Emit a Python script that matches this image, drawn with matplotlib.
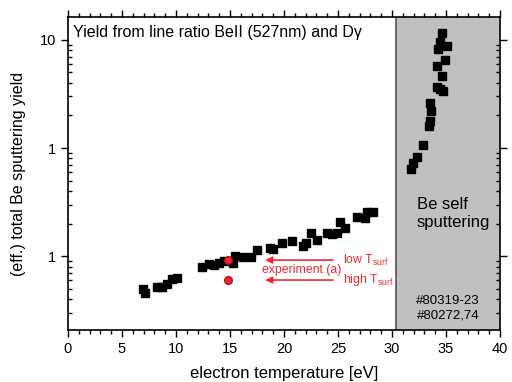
import matplotlib
matplotlib.use("Agg")
import matplotlib.pyplot as plt
from matplotlib.ticker import FixedLocator, FixedFormatter, MultipleLocator

plt.rcParams['font.family'] = ['Liberation Sans', 'DejaVu Sans']

# Be sputtering yield from line ratio (D plasma)
te_d = [6.98, 7.16, 8.21, 8.67, 9.14, 9.60, 10.06, 12.38, 13.09, 13.52, 14.01, 14.44,
        15.31, 15.46, 16.17, 16.91, 17.47, 18.70, 19.01, 19.78, 20.71, 21.79, 22.04,
        22.47, 23.09, 23.95, 24.41, 24.88, 25.19, 25.65, 26.73, 27.50, 27.65, 28.27]
y_d = [0.0491, 0.0457, 0.0513, 0.0520, 0.0550, 0.0608, 0.0625, 0.0786, 0.0843, 0.0820,
       0.0867, 0.0900, 0.0867, 0.1000, 0.0986, 0.0986, 0.1137, 0.1200, 0.1153, 0.1328,
       0.1377, 0.1238, 0.1310, 0.1620, 0.1407, 0.1620, 0.1600, 0.1644, 0.2080, 0.1830,
       0.2310, 0.2234, 0.2570, 0.2536]

# Be self sputtering
te_self = [34.60, 34.44, 35.06, 34.29, 34.94, 34.20, 34.63, 34.14, 34.69, 34.40,
           33.52, 33.58, 33.52, 33.40, 32.84, 32.35, 31.98, 31.73]
y_self = [11.5, 9.65, 8.8, 8.2, 6.53, 5.78, 4.64, 3.65, 3.40, 3.55,
          2.63, 2.22, 1.79, 1.60, 1.06, 0.83, 0.72, 0.635]

# experiment (a)
te_exp = [14.85, 14.85]
y_exp = [0.0918, 0.060]

ytick_vals = [0.1, 1, 10]
ytick_labels = ["1", "1", "10"]
xtick_vals = [0, 5, 10, 15, 20, 25, 30, 35, 40]

red = '#ee2a2e'

fig = plt.figure(figsize=(5.12, 3.82), dpi=100)
ax = fig.add_axes([68/512, 1-330/382, 432/512, 313/382])

ax.axvspan(30.4, 40, color='#c0c0c0', zorder=0)
ax.axvline(30.4, color='#555555', lw=1.2, zorder=1)

ax.plot(te_d, y_d, 's', color='black', ms=6, zorder=3)
ax.plot(te_self, y_self, 's', color='black', ms=6, zorder=3)
ax.plot(te_exp, y_exp, 'o', color=red, mec='#b01010', ms=5.5, zorder=4)

ax.set_yscale('log')
ax.set_xlim(0, 40)
ax.set_ylim(0.0207, 16.3)

ax.xaxis.set_major_locator(FixedLocator(xtick_vals))
ax.xaxis.set_minor_locator(MultipleLocator(1))
ax.yaxis.set_major_locator(FixedLocator(ytick_vals))
ax.yaxis.set_major_formatter(FixedFormatter(ytick_labels))
ax.yaxis.set_minor_formatter(FixedFormatter([]))

ax.tick_params(axis='x', which='major', direction='out', length=5, width=1, labelsize=10.5,
               top=True)
ax.tick_params(axis='x', which='minor', direction='out', length=3, width=1, top=True)
ax.tick_params(axis='y', which='major', direction='out', length=5, width=1, labelsize=10.5,
               right=True)
ax.tick_params(axis='y', which='minor', direction='in', length=3, width=1, right=True)
for s in ax.spines.values():
    s.set_linewidth(1.2)

ax.set_xlabel('electron temperature [eV]', fontsize=12, labelpad=7)
ax.set_ylabel('(eff.) total Be sputtering yield', fontsize=11.5, labelpad=10)

ax.text(0.012, 0.975, 'Yield from line ratio BeII (527nm) and D\u03b3',
        transform=ax.transAxes, ha='left', va='top', fontsize=11.5)
ax.text(32.3, 0.25, 'Be self\nsputtering', ha='left', va='center', fontsize=12,
        linespacing=1.25)
ax.text(35.2, 0.033, '#80319-23\n#80272,74', ha='center', va='center', fontsize=9.5,
        linespacing=1.3)

# red annotations
ax.annotate('', xy=(18.0, 0.0918), xytext=(24.8, 0.0918),
            arrowprops=dict(arrowstyle='-|>', color=red, lw=1.2, mutation_scale=10))
ax.annotate('', xy=(18.0, 0.060), xytext=(24.8, 0.060),
            arrowprops=dict(arrowstyle='-|>', color=red, lw=1.2, mutation_scale=10))
ax.text(25.5, 0.0918, r'low T$_{\mathregular{surf}}$', color=red, fontsize=8.8,
        va='center', ha='left')
ax.text(25.5, 0.060, r'high T$_{\mathregular{surf}}$', color=red, fontsize=8.8,
        va='center', ha='left')
ax.text(18.0, 0.0745, 'experiment (a)', color=red, fontsize=8.8, va='center', ha='left')

fig.savefig('out.png', dpi=100)
